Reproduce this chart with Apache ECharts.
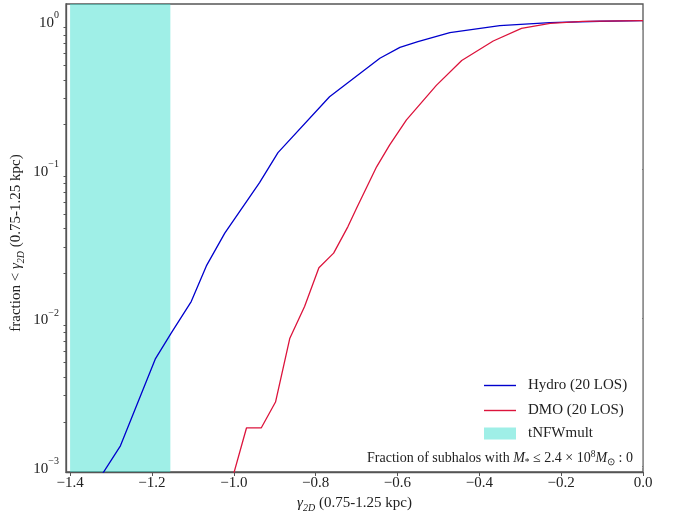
<!DOCTYPE html>
<html>
<head>
<meta charset="utf-8">
<script src="https://cdn.jsdelivr.net/npm/echarts@6/dist/echarts.min.js"></script>
<style>
  html, body { margin: 0; padding: 0; background: #fff; }
  #chart { width: 673px; height: 512px; }
</style>
</head>
<body>
<div id="chart"></div>
<script>
// values
var hydroX = [-1.336, -1.277, -1.192, -1.153, -1.104, -1.067, -1.022, -0.937, -0.892, -0.766, -0.643, -0.594, -0.550, -0.472, -0.350, -0.227, -0.105, 0.0];
var hydroY = [0.00077, 0.00138, 0.00528, 0.0079, 0.0129, 0.0224, 0.0372, 0.0814, 0.1295, 0.308, 0.559, 0.662, 0.722, 0.830, 0.926, 0.970, 0.991, 1.0];

var dmoX = [-1.0, -0.969, -0.933, -0.898, -0.863, -0.827, -0.792, -0.756, -0.721, -0.700, -0.651, -0.619, -0.578, -0.505, -0.443, -0.366, -0.297, -0.227, -0.147, 0.0];
var dmoY = [0.0009, 0.00182, 0.00182, 0.00272, 0.00731, 0.01194, 0.0218, 0.0273, 0.0412, 0.0548, 0.104, 0.146, 0.215, 0.367, 0.540, 0.730, 0.889, 0.960, 0.990, 1.0];

var bandRange = [-1.4, -1.155];

var xTicks = [-1.4, -1.2, -1.0, -0.8, -0.6, -0.4, -0.2, 0.0];
var yMajorTicks = [0.001, 0.01, 0.1, 1];
var yMinorTicks = [0.002, 0.003, 0.004, 0.005, 0.006, 0.007, 0.008, 0.009,
                   0.02, 0.03, 0.04, 0.05, 0.06, 0.07, 0.08, 0.09,
                   0.2, 0.3, 0.4, 0.5, 0.6, 0.7, 0.8, 0.9];
var yMin = 0.00092, yMax = 1.295;

var FONT = "Liberation Serif";
var TXT = "#222";
var AX = "#555";
var BAND = "rgba(64,224,208,0.5)";
var HYDRO = "#0000cd";
var DMO = "#dc143c";

function zip(xs, ys) {
  return xs.map(function (x, i) { return [x, ys[i]]; });
}
function log10All(vs) {
  return vs.map(function (v) { return Math.log10(v); });
}

var chart = echarts.init(document.getElementById("chart"));

var subRich = {
  g: { fontFamily: FONT, fontStyle: "italic", fontSize: 15, lineHeight: 20, verticalAlign: "middle" },
  sub: { fontFamily: FONT, fontStyle: "italic", fontSize: 10, lineHeight: 10, verticalAlign: "bottom" }
};

// helper axes in log10 space, they only carry the tick marks of the left spine
function tickAxis(position, offset, inside, len, values) {
  return {
    type: "value",
    min: Math.log10(yMin), max: Math.log10(yMax),
    position: position,
    offset: offset,
    splitLine: { show: false },
    axisLine: { show: false },
    axisTick: { show: true, inside: inside, length: len, customValues: log10All(values), lineStyle: { color: AX } },
    axisLabel: { show: false }
  };
}

var option = {
  animation: false,
  textStyle: { fontFamily: FONT, color: TXT },
  grid: {
    left: 66, right: 30, top: 4, bottom: 40,
    outerBoundsMode: "none",
    containLabel: false,
    show: true, borderColor: AX, borderWidth: 1.3, backgroundColor: "transparent"
  },
  legend: [
    {
      orient: "vertical",
      left: 484, top: 378, padding: 0,
      icon: "rect",
      itemWidth: 32, itemHeight: 1.4, itemGap: 10,
      textStyle: { fontFamily: FONT, fontSize: 15, color: TXT, lineHeight: 14, padding: [0, 0, 0, 7] },
      data: ["Hydro (20 LOS)", "DMO (20 LOS)"]
    },
    {
      orient: "vertical",
      left: 484, top: 426, padding: 0,
      icon: "rect",
      itemWidth: 32, itemHeight: 12,
      textStyle: { fontFamily: FONT, fontSize: 15, color: TXT, lineHeight: 14, padding: [0, 0, 0, 7] },
      data: [{ name: "tNFWmult", itemStyle: { color: BAND } }]
    }
  ],
  xAxis: {
    type: "value",
    min: -1.41, max: 0,
    name: "{g|γ}{sub|2D} (0.75-1.25 kpc)",
    nameLocation: "middle",
    nameGap: 21,
    nameTextStyle: { fontFamily: FONT, fontSize: 15, color: TXT, rich: subRich },
    splitLine: { show: false },
    axisLine: { onZero: false, lineStyle: { color: AX, width: 1.3 } },
    axisTick: { length: 4, customValues: xTicks, lineStyle: { color: AX } },
    axisLabel: {
      customValues: xTicks,
      margin: 4,
      fontFamily: FONT, fontSize: 15, color: TXT,
      formatter: function (v) {
        return (v < 0 ? "\u2212" : "") + Math.abs(v).toFixed(1);
      }
    }
  },
  yAxis: [
    {
      type: "log",
      logBase: 10,
      min: yMin, max: yMax,
      name: "fraction < {g|γ}{sub|2D} (0.75-1.25 kpc)",
      nameLocation: "middle",
      nameRotate: 90,
      nameGap: 40,
      nameMoveOverlap: false,
      nameTextStyle: { fontFamily: FONT, fontSize: 15, color: TXT, rich: subRich, padding: [0, 10, 0, 0] },
      splitLine: { show: false },
      axisLine: { show: true, onZero: false, lineStyle: { color: AX, width: 1.3 } },
      axisTick: { show: false },
      axisLabel: {
        customValues: yMajorTicks,
        margin: 7,
        fontFamily: FONT, fontSize: 15, color: TXT,
        formatter: function (v) {
          var e = Math.round(Math.log10(v));
          return "{b|10}{s|" + (e < 0 ? "\u2212" + (-e) : e) + "}";
        },
        rich: {
          b: { fontFamily: FONT, fontSize: 15, lineHeight: 20, verticalAlign: "bottom", color: TXT },
          s: { fontFamily: FONT, fontSize: 10, lineHeight: 14, verticalAlign: "top", color: TXT }
        }
      }
    },
    tickAxis("left", 0, false, 5, yMajorTicks),
    tickAxis("right", -577, true, 2.5, yMinorTicks)
  ],
  series: [
    {
      name: "tNFWmult",
      type: "line",
      data: [],
      itemStyle: { color: BAND },
      markArea: {
        silent: true,
        itemStyle: { color: BAND },
        data: [[{ xAxis: bandRange[0] }, { xAxis: bandRange[1] }]]
      }
    },
    {
      name: "Hydro (20 LOS)",
      type: "line",
      symbol: "none",
      color: HYDRO,
      lineStyle: { color: HYDRO, width: 1.3 },
      data: zip(hydroX, hydroY)
    },
    {
      name: "DMO (20 LOS)",
      type: "line",
      symbol: "none",
      color: DMO,
      lineStyle: { color: DMO, width: 1.3 },
      data: zip(dmoX, dmoY)
    }
  ],
  graphic: [
    {
      type: "text",
      x: 633, y: 458,
      style: {
        text: "Fraction of subhalos with {i|M}{sb|*} ≤ 2.4 × 10{sp|8}{i|M}{sb|⊙} : 0",
        align: "right",
        verticalAlign: "middle",
        font: "14px " + FONT,
        fill: TXT,
        rich: {
          i: { fontFamily: FONT, fontStyle: "italic", fontSize: 14, lineHeight: 18, verticalAlign: "middle" },
          sb: { fontFamily: FONT, fontSize: 9.5, lineHeight: 10, verticalAlign: "bottom" },
          sp: { fontFamily: FONT, fontSize: 9.5, lineHeight: 10, verticalAlign: "top" }
        }
      }
    },
    {
      // white strip inside the right spine, hides stray tick marks there
      type: "rect",
      z: 100,
      shape: { x: 634, y: 30, width: 8.2, height: 438 },
      style: { fill: "#fff" },
      silent: true
    }
  ]
};

chart.setOption(option);
</script>
</body>
</html>
